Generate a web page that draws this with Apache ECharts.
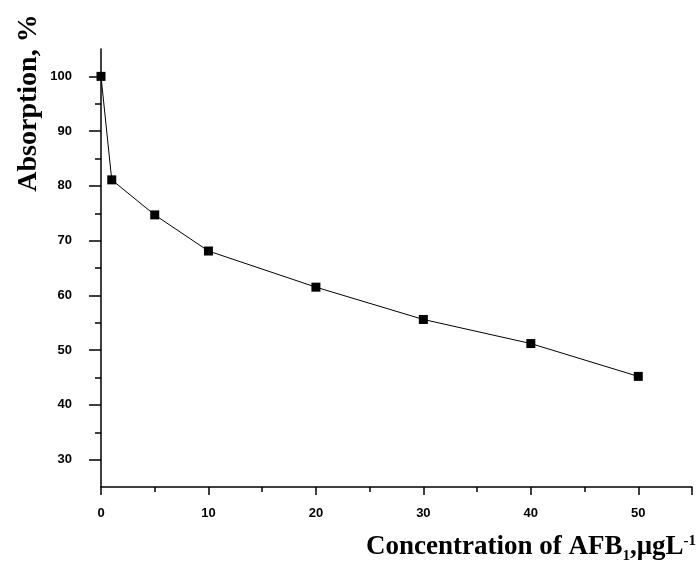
<!DOCTYPE html>
<html><head><meta charset="utf-8">
<script src="https://cdn.jsdelivr.net/npm/echarts@6/dist/echarts.min.js"></script>
<style>html,body{margin:0;padding:0;background:#fff}#c{width:698px;height:563px}</style>
</head><body><div id="c"></div>
<script>
const concentration = [0, 1, 5, 10, 20, 30, 40, 50];
const absorption = [100, 81.1, 74.7, 68.1, 61.5, 55.6, 51.2, 45.2];
const xTicks = [0, 10, 20, 30, 40, 50];
const yTicks = [30, 40, 50, 60, 70, 80, 90, 100];

const chart = echarts.init(document.getElementById('c'));
const labelFont = {fontFamily: 'Liberation Sans, Arial, sans-serif', fontWeight: 'bold', fontSize: 13, color: '#000'};
const serif = '"Liberation Serif", "Times New Roman", serif';
chart.setOption({
  animation: false,
  backgroundColor: '#fff',
  grid: {left: 101, right: 6, top: 49, bottom: 76, containLabel: false},
  xAxis: {
    type: 'value', min: 0, max: 55, interval: 10,
    axisLine: {lineStyle: {color: '#000', width: 1.5}},
    axisTick: {show: true, inside: false, length: 8, lineStyle: {color: '#000', width: 1.5}},
    minorTick: {show: true, splitNumber: 2, length: 5, lineStyle: {color: '#000', width: 1.5}},
    splitLine: {show: false},
    axisLabel: Object.assign({margin: 20, formatter: v => xTicks.includes(v) ? String(v) : ''}, labelFont)
  },
  yAxis: [{
    type: 'value', min: 25, max: 105, interval: 5,
    axisLine: {show: true, lineStyle: {color: '#000', width: 1.5}},
    axisTick: {show: true, inside: false, length: 6, lineStyle: {color: '#000', width: 1.5}},
    splitLine: {show: false},
    axisLabel: Object.assign({margin: 29, showMinLabel: false, showMaxLabel: false, formatter: v => yTicks.includes(v) ? String(v) : ''}, labelFont)
  }, {
    type: 'value', min: 25, max: 105, position: 'left', offset: 0,
    axisLine: {show: false},
    axisTick: {show: true, inside: false, length: 12, customValues: yTicks, lineStyle: {color: '#000', width: 1.5}},
    splitLine: {show: false},
    axisLabel: {show: false}
  }],
  series: [{
    type: 'line',
    yAxisIndex: 0,
    data: concentration.map((c, i) => [c, absorption[i]]),
    symbol: 'rect', symbolSize: 9,
    lineStyle: {color: '#000', width: 1},
    itemStyle: {color: '#000'}
  }],
  graphic: [
    {type: 'text', x: 29, y: 103, rotation: Math.PI / 2,
     style: {text: 'Absorption, %', font: 'bold 28px ' + serif, fill: '#000', textAlign: 'center', textVerticalAlign: 'middle'}},
    {type: 'text', x: 696, y: 534,
     style: {
       text: '{m|Concentration of AFB}{s|1}{m|,μgL}{p|-1}',
       textAlign: 'right', textVerticalAlign: 'top',
       rich: {
         m: {font: 'bold 27px ' + serif, fill: '#000', lineHeight: 30, verticalAlign: 'top'},
         s: {font: 'bold 15px ' + serif, fill: '#000', lineHeight: 14, verticalAlign: 'bottom'},
         p: {font: 'bold 15px ' + serif, fill: '#000', lineHeight: 14, verticalAlign: 'top'}
       }
     }}
  ]
});
</script></body></html>
